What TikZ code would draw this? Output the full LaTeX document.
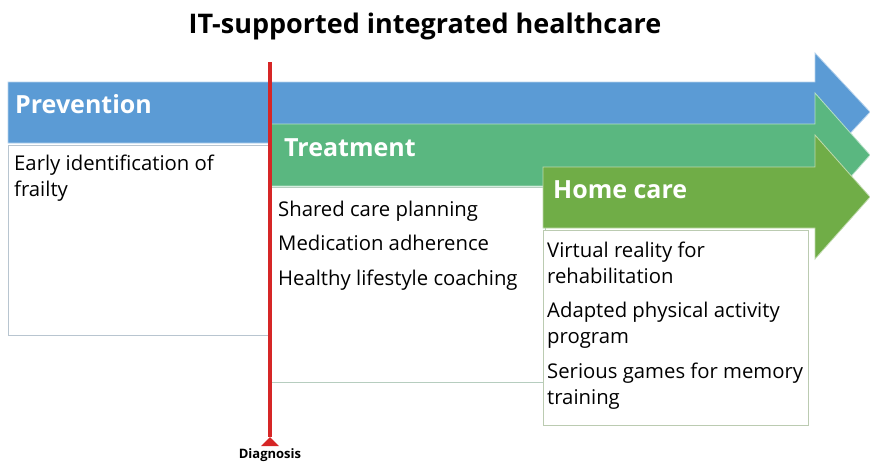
\documentclass[tikz,border=0pt]{standalone}
\usepackage{fontspec}
\setmainfont{Open Sans}
\usetikzlibrary{positioning}
\definecolor{prevblue}{RGB}{91,155,213}
\definecolor{treatgreen}{RGB}{90,183,128}
\definecolor{homegreen}{RGB}{112,173,71}
\definecolor{diagred}{RGB}{214,38,38}
\tikzset{
    phase/.style={draw=white!55!#1, line width=0.8pt, fill=#1},
    phasetitle/.style={anchor=base west, inner sep=0pt, text=white, font=\fontsize{25}{30}\selectfont\bfseries},
    infobox/.style={draw=#1, line width=1pt, fill=white},
    boxitem/.style={anchor=base west, inner sep=0pt, align=left, font=\fontsize{20.3}{25.5}\selectfont}
}

\begin{document}
\begin{tikzpicture}[x=1pt, y=-1pt]
\useasboundingbox (0,0) rectangle (870,463);

\node[font=\fontsize{27}{32}\selectfont\bfseries, anchor=base, inner sep=0pt] (title) at (425,33) {IT-supported integrated healthcare};

% prevention
\draw[phase=prevblue] (8,82) -- (815,82) -- (815,53) -- (870,112) -- (815,171) -- (815,143) -- (8,143) -- cycle;
\node[phasetitle] (prevention) at (15,113) {Prevention};
\draw[infobox=prevblue!40!gray!50] (8,145) rectangle (268,335);
\node[boxitem] (frailty) at (14,196) {Early identification of\\frailty};

% treatment
\draw[phase=treatgreen] (270,124) -- (815,124) -- (815,93) -- (870,155) -- (815,217) -- (815,186) -- (270,186) -- cycle;
\node[phasetitle] (treatment) at (284,156) {Treatment};
\draw[infobox=treatgreen!50!gray!50] (270,187) rectangle (545,382);
\node[boxitem] (shared) at (278,216) {Shared care planning};
\node[boxitem] (medication) at (278,250) {Medication adherence};
\node[boxitem] (lifestyle) at (278,285) {Healthy lifestyle coaching};

% home care
\draw[phase=homegreen] (543,167) -- (815,167) -- (815,135) -- (870,197) -- (815,259) -- (815,228) -- (543,228) -- cycle;
\node[phasetitle] (homecare) at (553,198) {Home care};
\draw[infobox=homegreen!50!gray!50] (543,230) rectangle (808,425);
\node[boxitem] (virtual) at (547,283) {Virtual reality for\\rehabilitation};
\node[boxitem] (physical) at (547,343) {Adapted physical activity\\program};
\node[boxitem] (games) at (547,404) {Serious games for memory\\training};

% diagnosis
\coordinate (diagtop) at (270,62);
\coordinate (diagfoot) at (270,437);
\draw[diagred, line width=4pt] (diagtop) -- (diagfoot);
\fill[diagred] (diagfoot) -- ++(9,9) -- ++(-18,0) -- cycle;
\node[font=\fontsize{13}{15}\selectfont\bfseries, anchor=base, inner sep=0pt] (diagnosis) at (270,458) {Diagnosis};

\end{tikzpicture}
\end{document}
